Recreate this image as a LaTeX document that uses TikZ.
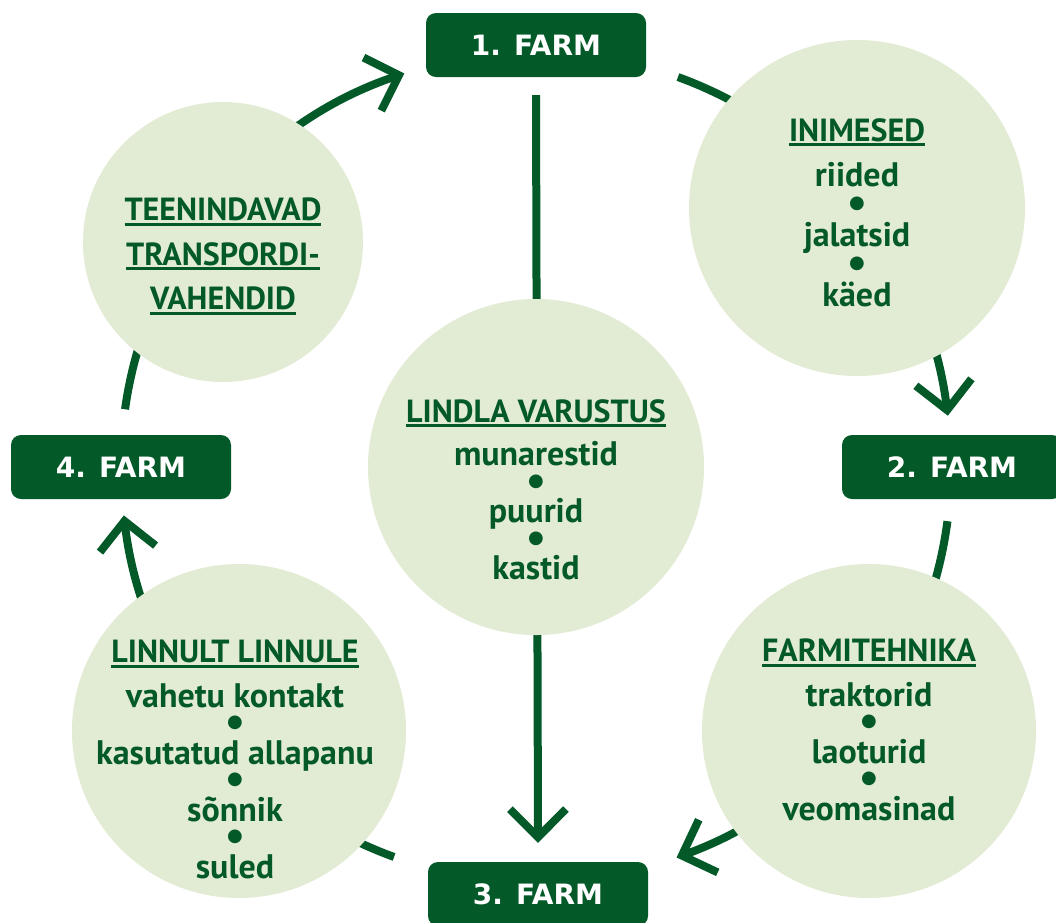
\documentclass[tikz,border=0pt]{standalone}
\usepackage{fontspec}
\setmainfont{PT Sans}
\newfontfamily\boxfont{DejaVu Sans}
\usetikzlibrary{positioning, arrows.meta}
\definecolor{farmgreen}{RGB}{3,90,40}
\definecolor{palegreen}{RGB}{226,235,211}
\newcommand{\hd}[1]{{\fontsize{32}{28.5}\selectfont\setbox0=\hbox{#1}\rlap{\vrule width\wd0 height -2pt depth 5pt}\box0}}
\newcommand{\bul}{{\boxfont\fontsize{18}{18}\selectfont\raisebox{8pt}{●}}}

\begin{document}
\begin{tikzpicture}[
    x=1pt, y=1pt,
    farmbox/.style={rectangle, rounded corners=10pt, fill=farmgreen, text=white, minimum width=220pt, minimum height=64pt, inner sep=0pt, font={\boxfont\bfseries\fontsize{28}{30}\selectfont}},
    bubble/.style={circle, fill=palegreen, inner sep=0pt},
    bubbletext/.style={anchor=north, align=center, inner sep=0pt, text=farmgreen, font={\bfseries\fontsize{34}{28.5}\selectfont\lineskiplimit=-1000pt\relax}},
    ring/.style={line width=8pt, draw=farmgreen},
    arrow/.style={ring, -{Straight Barb[length=28pt, width=56pt]}}
]
\useasboundingbox (0,0) rectangle (1056,-922);
\clip (0,0) rectangle (1056,-922);

% Farm boxes
\coordinate (hub) at (536,-467);
\node[farmbox] (farm1) at (536,-45) {1. FARM};
\node[farmbox] (farm2) at (952,-467) {2. FARM};
\node[farmbox] (farm3) at (538,-894) {3. FARM};
\node[farmbox] (farm4) at (121,-467) {4. FARM};

% Arcs round the hub (circles hide their middle parts)
\coordinate (ne-from) at ([shift={(70:415)}]hub);
\coordinate (se-from) at ([shift={(-7.5:415)}]hub);
\coordinate (sw-from) at ([shift={(-110:415)}]hub);
\coordinate (nw-from) at ([shift={(172:415)}]hub);
\draw[arrow] (ne-from) arc[start angle=70, end angle=7.1, radius=415];
\draw[arrow] (se-from) arc[start angle=-7.5, end angle=-70.2, radius=415];
\draw[arrow] (sw-from) arc[start angle=-110, end angle=-173.3, radius=415];
\draw[arrow] (nw-from) arc[start angle=172, end angle=108.5, radius=415];
\draw[arrow] ([yshift=-18pt]farm1.south) -- ([yshift=19pt]farm3.north);

% Circles
\node[bubble, minimum size=280pt] (transport) at (223,-242) {};
\node[bubble, minimum size=336pt] (people) at (857,-208) {};
\node[bubble, minimum size=336pt] (gear) at (hub) {};
\node[bubble, minimum size=334pt] (birds) at (239,-731) {};
\node[bubble, minimum size=334pt] (machinery) at (869,-731) {};

% Texts
\node[bubbletext] (transport-txt) at (223,-198) {\hd{TEENINDAVAD}\\[16pt]\hd{TRANSPORDI-}\\[16pt]\hd{VAHENDID}};
\node[bubbletext] (people-txt) at (857,-118) {\hd{INIMESED}\\[17pt]riided\\[1.5pt]\bul\\[1.5pt]jalatsid\\[1.5pt]\bul\\[1.5pt]käed};
\node[bubbletext] (gear-txt) at (536,-399) {\hd{LINDLA VARUSTUS}\\[15pt]munarestid\\\bul\\puurid\\\bul\\kastid};
\node[bubbletext] (birds-txt) at (235,-640) {\hd{LINNULT LINNULE}\\[16pt]vahetu kontakt\\\bul\\kasutatud allapanu\\\bul\\sõnnik\\\bul\\suled};
\node[bubbletext] (machinery-txt) at (869,-639) {\hd{FARMITEHNIKA}\\[16pt]traktorid\\\bul\\laoturid\\\bul\\veomasinad};

\end{tikzpicture}
\end{document}
